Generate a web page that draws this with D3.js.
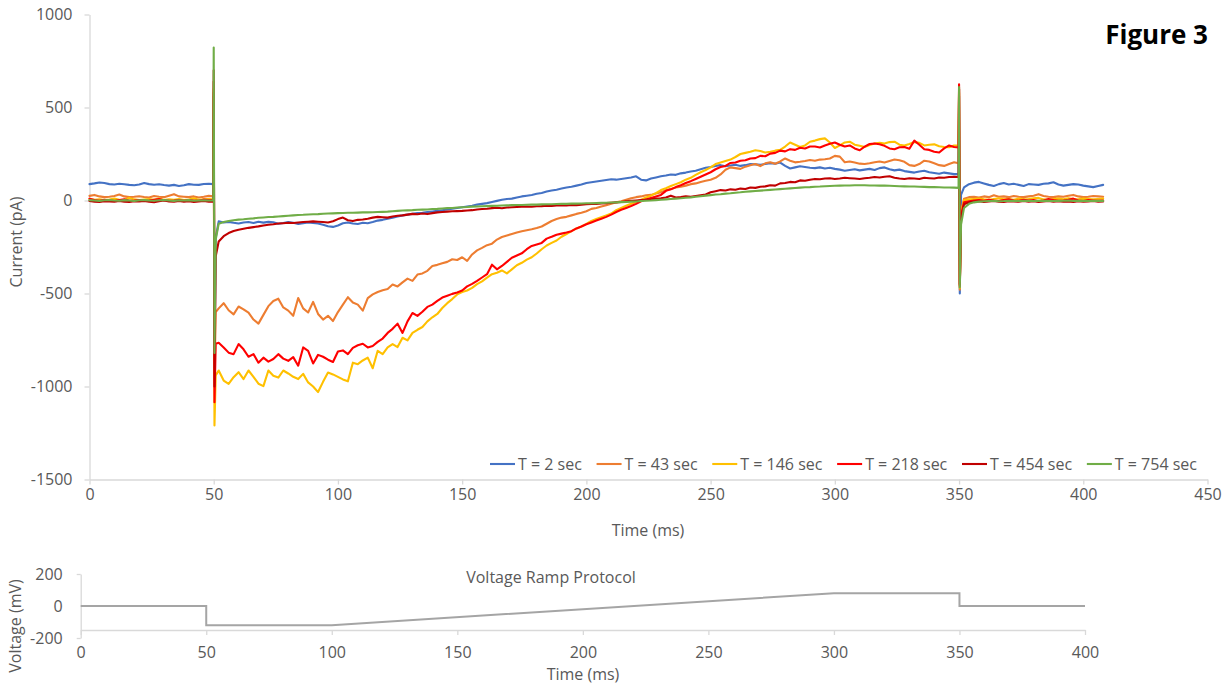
<!DOCTYPE html>
<html>
<head>
<meta charset="utf-8">
<script src="https://cdn.jsdelivr.net/npm/d3@7"></script>
<style>
  body { margin: 0; background: #ffffff; }
  text { font-family: "Open Sans", "Noto Sans", sans-serif; }
</style>
</head>
<body>
<svg id="chart" width="1231" height="684"></svg>
<script>
// ---------------- Whole-cell current traces (pA) ----------------
const seriesNames = ["T = 2 sec", "T = 43 sec", "T = 146 sec", "T = 218 sec", "T = 454 sec", "T = 754 sec"];

// Holding at 0 mV: samples every 2 ms from 0 to 48 ms
const preBlue    = [88,92,97,94,88,86,90,87,84,82,86,94,88,85,87,83,80,84,78,82,88,85,84,89,90];
const preOrange  = [25,30,22,18,20,24,32,22,18,20,23,19,16,24,20,18,26,34,22,20,18,22,16,20,25];
const preYellow  = [8,4,6,2,5,10,4,3,14,6,2,5,8,4,10,3,6,4,8,2,5,12,4,6,8];
const preRed     = [10,2,-2,4,0,-3,2,6,-1,0,3,-2,0,4,8,1,-2,0,3,-1,2,0,-2,5,3];
const preDarkRed = [-2,-6,-8,-4,-5,-7,-3,-6,-8,-4,-5,-2,-6,-9,-4,0,-5,-7,-3,-6,-4,-8,-5,-3,-6];
const preGreen   = [2,0,-2,1,3,0,-1,2,0,-3,1,2,0,-1,1,3,0,-2,1,0,2,-1,0,1,0];

// Capacitive transient at the step to -120 mV
const stepInTimes    = [49.8, 50, 50.3, 50.8];
const stepInBlue     = [88, 560, -900, -200];
const stepInOrange   = [22, 580, -960, -600];
const stepInYellow   = [6, 600, -1210, -940];
const stepInRed      = [2, 640, -1085, -770];
const stepInDarkRed  = [-5, 700, -1000, -300];
const stepInGreen    = [0, 822, -820, -210];

// Hyperpolarised hold and ramp: samples every 2 ms from 52 to 348 ms
const rampBlue = [
  -112,-118,-115,-120,-124,-118,-116,-121,-114,-119,
  -115,-117,-125,-121,-116,-120,-126,-122,-118,-121,
  -124,-130,-138,-142,-134,-122,-118,-124,-126,-120,
  -122,-116,-108,-104,-98,-92,-86,-80,-76,-72,
  -68,-66,-62,-59,-56,-52,-48,-44,-40,-36,
  -32,-28,-22,-18,-14,-8,-2,4,8,10,
  16,22,26,30,36,40,48,54,58,64,
  70,74,80,86,94,98,102,106,110,114,
  112,116,120,124,130,112,108,118,124,130,
  134,140,138,146,150,156,160,168,176,180,
  186,190,184,188,192,186,190,196,194,192,
  196,200,198,204,186,172,178,184,180,176,
  174,178,172,176,170,166,160,164,168,162,
  166,170,164,174,178,168,162,166,158,154,
  150,156,160,152,148,144,150,146,142];
const rampOrange = [
  -580,-552,-590,-612,-570,-585,-603,-640,-662,-615,
  -568,-540,-528,-575,-592,-620,-524,-580,-602,-545,
  -610,-640,-620,-648,-600,-560,-520,-548,-560,-592,
  -525,-505,-492,-482,-476,-452,-462,-440,-420,-432,
  -398,-392,-378,-352,-346,-338,-330,-316,-320,-305,
  -325,-290,-268,-255,-240,-232,-210,-196,-188,-180,
  -172,-165,-160,-155,-148,-140,-125,-110,-100,-92,
  -88,-80,-72,-66,-58,-45,-40,-32,-25,-18,
  -10,-4,4,12,18,22,28,30,38,45,
  55,62,70,74,80,88,92,100,106,112,
  122,140,165,178,174,170,182,190,196,185,
  200,206,198,210,226,214,205,208,212,218,
  214,220,222,226,240,236,206,210,204,198,
  196,200,206,210,204,212,220,216,208,190,
  186,196,214,210,200,190,186,196,206];
const rampYellow = [
  -914,-968,-986,-950,-923,-960,-914,-948,-985,-998,
  -914,-942,-952,-914,-930,-948,-960,-932,-978,-1000,
  -1030,-975,-925,-935,-948,-962,-972,-872,-880,-860,
  -845,-902,-808,-826,-790,-772,-788,-738,-752,-712,
  -695,-680,-650,-628,-610,-578,-552,-530,-505,-492,
  -484,-470,-450,-435,-415,-396,-388,-376,-392,-370,
  -348,-335,-318,-305,-285,-262,-242,-228,-215,-195,
  -180,-165,-150,-140,-126,-110,-100,-90,-80,-70,
  -52,-40,-28,-18,-8,4,16,26,40,56,
  66,78,88,98,112,122,138,152,164,178,
  196,204,212,220,234,250,256,262,270,266,
  258,262,268,272,290,312,300,288,296,316,
  322,330,334,312,282,296,312,316,300,294,
  288,298,306,310,306,314,316,300,296,304,
  314,310,296,300,302,292,288,286,296];
const rampRed = [
  -765,-790,-818,-826,-772,-800,-840,-826,-872,-845,
  -866,-852,-826,-850,-862,-842,-888,-790,-808,-876,
  -830,-840,-856,-868,-812,-806,-826,-792,-778,-770,
  -790,-782,-760,-742,-712,-690,-662,-712,-650,-605,
  -620,-598,-572,-560,-540,-522,-512,-502,-495,-484,
  -462,-448,-432,-414,-396,-345,-370,-352,-330,-308,
  -296,-284,-262,-244,-236,-228,-205,-195,-184,-178,
  -172,-165,-150,-140,-128,-118,-108,-98,-88,-76,
  -62,-50,-40,-30,-18,-4,6,14,22,30,
  52,60,72,82,94,104,116,128,140,152,
  168,180,186,202,204,214,216,226,228,240,
  238,252,256,268,264,276,272,284,280,290,
  290,285,296,305,312,300,290,296,280,270,
  290,304,306,302,294,280,276,286,288,278,
  322,300,276,272,262,258,280,296,288];
const rampDarkRed = [
  -220,-192,-175,-164,-157,-152,-147,-143,-139,-134,
  -130,-128,-124,-122,-120,-121,-118,-116,-114,-112,
  -114,-116,-118,-112,-100,-92,-106,-110,-104,-102,
  -98,-92,-88,-90,-92,-86,-82,-80,-76,-72,
  -74,-70,-73,-68,-64,-62,-60,-58,-57,-56,
  -54,-52,-48,-46,-44,-41,-39,-42,-38,-36,
  -35,-34,-32,-34,-31,-30,-28,-29,-26,-27,
  -26,-24,-25,-22,-20,-18,-19,-16,-14,-12,
  -10,-8,-4,-2,0,2,4,6,10,12,
  16,26,16,18,22,20,24,28,32,44,
  50,56,54,60,58,64,62,70,68,74,
  76,82,80,92,94,100,98,108,106,112,
  116,114,118,120,116,118,122,120,118,116,
  120,122,126,124,128,130,122,118,116,120,
  118,116,122,120,118,124,122,126,128];
const rampGreen = [
  -125,-116,-110,-106,-103,-101,-98,-96,-93,-91,
  -89,-88,-86,-84,-82,-80,-78,-77,-75,-74,
  -73,-71,-70,-69,-68,-67,-66,-66,-65,-64,
  -64,-63,-62,-61,-60,-58,-56,-54,-53,-52,
  -50,-49,-48,-46,-45,-43,-41,-40,-38,-36,
  -35,-33,-32,-31,-30,-29,-28,-27,-26,-25,
  -24,-24,-23,-22,-22,-21,-20,-20,-19,-18,
  -18,-17,-17,-16,-15,-15,-14,-13,-12,-11,
  -10,-9,-8,-6,-5,-3,-1,0,2,4,
  6,8,10,12,15,17,20,23,26,29,
  32,34,37,39,42,44,47,49,51,53,
  55,57,59,61,63,65,67,69,71,72,
  74,75,77,78,79,80,81,81,82,82,
  82,81,81,80,80,79,78,77,76,75,
  75,74,73,72,72,71,70,70,69];

// Capacitive transient at the step back to 0 mV
const stepOutTimes   = [349.8, 350, 350.3, 350.8];
const stepOutBlue    = [142, 560, -500, 30];
const stepOutOrange  = [200, 600, -480, -60];
const stepOutYellow  = [296, 580, -470, -70];
const stepOutRed     = [285, 625, -460, -80];
const stepOutDarkRed = [126, 600, -450, -100];
const stepOutGreen   = [68, 610, -468, -130];

// Back at 0 mV: samples every 2 ms from 352 to 408 ms
const postBlue    = [70,88,96,100,92,84,78,88,94,86,90,84,78,88,86,84,90,92,98,86,80,84,88,86,80,76,72,78,84];
const postOrange  = [10,18,20,16,22,18,28,20,22,18,24,20,18,22,26,34,24,20,18,22,20,26,30,22,18,20,24,22,20];
const postYellow  = [2,6,8,10,6,4,8,12,6,8,4,10,6,8,12,14,6,4,8,10,6,12,8,6,10,8,6,8,10];
const postRed     = [-10,-4,0,2,-2,4,0,-3,2,6,0,-2,4,0,2,-4,0,8,2,-2,0,4,10,0,-3,2,0,-2,0];
const postDarkRed = [-20,-10,-6,-4,-8,-5,-3,-6,-8,-4,-5,-7,-3,-6,-4,-8,-5,-3,-6,-4,-7,-5,-8,-4,-6,-5,-3,-6,-5];
const postGreen   = [-40,-18,-10,-6,-4,-3,-2,-4,-3,-1,-2,-3,-2,-1,-3,-2,-1,-2,-3,-2,-1,0,-2,-1,-2,-3,-2,-1,-2];

// ---------------- Voltage protocol (mV) ----------------
const protocolTimes  = [0, 50, 50, 100, 300, 350, 350, 400];
const protocolVolts  = [0, 0, -120, -120, 80, 80, 0, 0];

// ---------------- Axis ticks ----------------
const currentTicks = [-1500, -1000, -500, 0, 500, 1000];
const timeTicksMain = [0, 50, 100, 150, 200, 250, 300, 350, 400, 450];
const voltTicks = [-200, 0, 200];
const timeTicksProtocol = [0, 50, 100, 150, 200, 250, 300, 350, 400];

// ---------------- Styling ----------------
const traceColors = ["#4472C4", "#ED7D31", "#FFC000", "#FF0000", "#C00000", "#70AD47"];
const axisColor = "#d9d9d9";
const labelColor = "#595959";
const fontSize = 16;
const plainNumber = d => String(d);   // hyphen-minus for negative labels

function buildTrace(pre, stepIn, ramp, stepOut, post) {
  const pts = [];
  pre.forEach((v, i) => pts.push([i * 2, v]));
  stepIn.forEach((v, i) => pts.push([stepInTimes[i], v]));
  ramp.forEach((v, i) => pts.push([52 + i * 2, v]));
  stepOut.forEach((v, i) => pts.push([stepOutTimes[i], v]));
  post.forEach((v, i) => pts.push([352 + i * 2, v]));
  return pts;
}

const traces = [
  buildTrace(preBlue, stepInBlue, rampBlue, stepOutBlue, postBlue),
  buildTrace(preOrange, stepInOrange, rampOrange, stepOutOrange, postOrange),
  buildTrace(preYellow, stepInYellow, rampYellow, stepOutYellow, postYellow),
  buildTrace(preRed, stepInRed, rampRed, stepOutRed, postRed),
  buildTrace(preDarkRed, stepInDarkRed, rampDarkRed, stepOutDarkRed, postDarkRed),
  buildTrace(preGreen, stepInGreen, rampGreen, stepOutGreen, postGreen)
];

const svg = d3.select("#chart");

// ================= Main current plot =================
const x = d3.scaleLinear().domain([0, 450]).range([89.5, 1207.5]);
const y = d3.scaleLinear().domain([-1500, 1000]).range([479.5, 14.5]);

function styleAxis(g) {
  g.select(".domain").attr("stroke", axisColor).attr("stroke-width", 1.3);
  g.selectAll(".tick line").attr("stroke", axisColor).attr("stroke-width", 1.3);
  g.selectAll(".tick text").attr("fill", labelColor).style("font-size", fontSize + "px")
    .style("font-family", '"Open Sans", sans-serif');
}

svg.append("g")
  .attr("transform", `translate(0,${y(-1500)})`)
  .call(d3.axisBottom(x).tickValues(timeTicksMain).tickFormat(plainNumber).tickSizeInner(5).tickSizeOuter(0).tickPadding(4))
  .call(styleAxis);

svg.append("g")
  .attr("transform", `translate(${x(0)},0)`)
  .call(d3.axisLeft(y).tickValues(currentTicks).tickFormat(plainNumber).tickSizeInner(5).tickSizeOuter(0).tickPadding(12))
  .call(styleAxis);

const line = d3.line().x(d => x(d[0])).y(d => y(d[1]));

svg.append("g").selectAll("path")
  .data(traces)
  .join("path")
  .attr("d", line)
  .attr("fill", "none")
  .attr("stroke", (d, i) => traceColors[i])
  .attr("stroke-width", 2.1)
  .attr("stroke-linejoin", "round")
  .attr("stroke-linecap", "round");

// Axis titles
svg.append("text")
  .attr("x", 648).attr("y", 536)
  .attr("text-anchor", "middle")
  .attr("fill", labelColor).style("font-size", fontSize + "px")
  .text("Time (ms)");

svg.append("text")
  .attr("transform", "translate(22,242) rotate(-90)")
  .attr("text-anchor", "middle")
  .attr("fill", labelColor).style("font-size", fontSize + "px")
  .text("Current (pA)");

// Figure label
svg.append("text")
  .attr("x", 1208).attr("y", 44)
  .attr("text-anchor", "end")
  .attr("fill", "#000000")
  .style("font-size", "26px").style("font-weight", "bold")
  .text("Figure 3");

// Legend: entries spread between its left and right edges
const legend = svg.append("g");
const legendLeft = 490, legendRight = 1197, swatch = 25, swatchGap = 3;
const legendTexts = seriesNames.map((name, i) =>
  legend.append("text")
    .attr("y", 470)
    .attr("fill", labelColor).style("font-size", fontSize + "px")
    .text(name));
const textWidths = legendTexts.map(t => t.node().getComputedTextLength());
const itemGap = (legendRight - legendLeft - d3.sum(textWidths) - seriesNames.length * (swatch + swatchGap)) / (seriesNames.length - 1);
let lx = legendLeft;
seriesNames.forEach((name, i) => {
  legend.append("line")
    .attr("x1", lx).attr("x2", lx + swatch)
    .attr("y1", 464).attr("y2", 464)
    .attr("stroke", traceColors[i]).attr("stroke-width", 2.1);
  legendTexts[i].attr("x", lx + swatch + swatchGap);
  lx += swatch + swatchGap + textWidths[i] + itemGap;
});

// ================= Voltage protocol plot =================
const xp = d3.scaleLinear().domain([0, 400]).range([80.7, 1085]);
const yp = d3.scaleLinear().domain([-200, 200]).range([638, 574]);
const protocolAxisY = 630;

svg.append("g")
  .attr("transform", `translate(0,${protocolAxisY})`)
  .call(d3.axisBottom(xp).tickValues(timeTicksProtocol).tickFormat(plainNumber).tickSizeInner(5).tickSizeOuter(0).tickPadding(12))
  .call(styleAxis);

svg.append("g")
  .attr("transform", `translate(${xp(0)},0)`)
  .call(d3.axisLeft(yp).tickValues(voltTicks).tickFormat(plainNumber).tickSizeInner(4).tickSizeOuter(0).tickPadding(14))
  .call(styleAxis)
  .call(g => g.selectAll(".tick").filter(d => d === 0).select("line").remove());

const protocolLine = d3.line().x((d, i) => xp(protocolTimes[i])).y(d => yp(d));
svg.append("path")
  .datum(protocolVolts)
  .attr("d", protocolLine)
  .attr("fill", "none")
  .attr("stroke", "#a5a5a5")
  .attr("stroke-width", 2);

svg.append("text")
  .attr("x", 551).attr("y", 583)
  .attr("text-anchor", "middle")
  .attr("fill", labelColor).style("font-size", fontSize + "px")
  .text("Voltage Ramp Protocol");

svg.append("text")
  .attr("x", 583).attr("y", 680)
  .attr("text-anchor", "middle")
  .attr("fill", labelColor).style("font-size", fontSize + "px")
  .text("Time (ms)");

svg.append("text")
  .attr("transform", "translate(21,626) rotate(-90)")
  .attr("text-anchor", "middle")
  .attr("fill", labelColor).style("font-size", fontSize + "px")
  .text("Voltage (mV)");
</script>
</body>
</html>
